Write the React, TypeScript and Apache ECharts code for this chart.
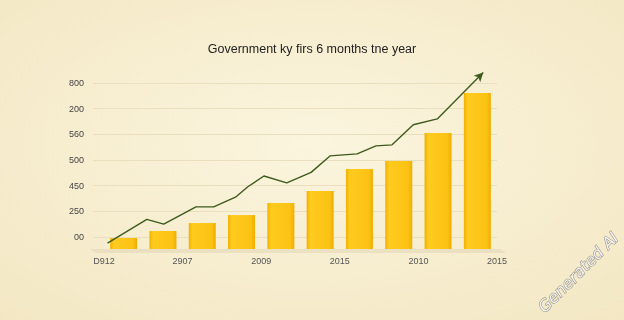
import React, { useEffect, useRef } from "react";
import * as echarts from "echarts";

const title = "Government ky firs 6 months tne year";
const categories = ["1", "2", "3", "4", "5", "6", "7", "8", "9", "10"];
const barValues = [43, 70, 101, 132, 179, 226, 311, 342, 451, 607];
const yTickLabels = ["00", "250", "450", "500", "560", "200", "800"];
const xTickLabels = ["D912", "2907", "2009", "2015", "2010", "2015"];
const lineX = [0.09, 1.09, 1.52, 2.34, 2.79, 3.36, 3.66, 4.07, 4.65, 5.27, 5.75, 6.44, 6.92, 7.33, 7.87, 8.48, 9.65];
const lineY = [23, 115, 97, 164, 164, 203, 242, 284, 257, 298, 362, 370, 401, 405, 483, 506, 686];

export default function App() {
  const ref = useRef<HTMLDivElement>(null);
  useEffect(() => {
    if (!ref.current) return;
    const chart = echarts.init(ref.current, undefined, { renderer: "svg" });
    const lineData: any[] = lineX.map((x, i) => {
      if (i === lineX.length - 1) {
        return { value: [x, lineY[i]], symbol: "arrow", symbolSize: [7, 9], symbolRotate: -45 };
      }
      return [x, lineY[i]];
    });
    chart.setOption({
      animation: false,
      backgroundColor: {
        type: "radial", x: 0.5, y: 0.45, r: 0.75,
        colorStops: [
          { offset: 0, color: "#FBF5DE" },
          { offset: 1, color: "#F3E7C3" },
        ],
      },
      title: {
        text: title, left: "center", top: 37,
        textStyle: { fontFamily: "Liberation Sans", fontSize: 12.5, fontWeight: "normal", color: "#222" },
      },
      grid: [
        { left: 93, right: 127, top: 83, bottom: 83 },
        { left: 104, right: 127, top: 69, bottom: 71 },
      ],
      xAxis: [
        { gridIndex: 0, type: "value", min: 0, max: 10, show: false, position: "bottom" },
        { gridIndex: 1, type: "category", data: categories, show: false, boundaryGap: true, position: "bottom" },
        {
          gridIndex: 1, type: "value", min: 0, max: 10, interval: 2, position: "bottom",
          axisLine: { show: false }, axisTick: { show: false }, splitLine: { show: false },
          axisLabel: {
            margin: 7, fontSize: 9, color: "#555", fontFamily: "Liberation Sans",
            formatter: (v: number) => xTickLabels[Math.round(v / 2)] ?? "",
          },
        },
      ],
      yAxis: [
        {
          gridIndex: 0, type: "value", min: 0, max: 600, interval: 100,
          axisLine: { show: false }, axisTick: { show: false },
          splitLine: { lineStyle: { color: "#E9DFBE", width: 1 } },
          axisLabel: {
            margin: 9, fontSize: 9, color: "#444", fontFamily: "Liberation Sans",
            formatter: (v: number) => yTickLabels[Math.round(v / 100)] ?? "",
          },
        },
        { gridIndex: 1, type: "value", min: 0, max: 700, show: false, splitLine: { show: false } },
      ],
      graphic: [
        {
          type: "polygon", silent: true, z: 0,
          shape: { points: [[90, 249], [500, 249], [506, 253], [96, 253]] },
          style: { fill: "rgba(200,185,150,0.25)" },
        },
        {
          type: "text", right: 2, bottom: 4, rotation: Math.PI / 4, silent: true,
          style: {
            text: "Generated AI", fontSize: 16, fontStyle: "italic", fontFamily: "DejaVu Sans",
            fill: "rgba(255,255,255,0.85)", stroke: "rgba(100,100,100,0.75)", lineWidth: 1,
          },
        },
      ],
      series: [
        {
          type: "bar", xAxisIndex: 1, yAxisIndex: 1, data: barValues, barWidth: 27, z: 2,
          itemStyle: {
            color: {
              type: "linear", x: 0, y: 0, x2: 1, y2: 0,
              colorStops: [
                { offset: 0, color: "#F2B000" },
                { offset: 0.14, color: "#FFCB1F" },
                { offset: 0.85, color: "#FBC213" },
                { offset: 1, color: "#EFAC00" },
              ],
            },
          },
        },
        {
          type: "line", xAxisIndex: 2, yAxisIndex: 1, data: lineData, symbol: "none",
          showSymbol: true, clip: false, z: 3,
          lineStyle: { color: "#3E5A1C", width: 1.4 },
          itemStyle: { color: "#3E5A1C" },
        },
      ],
    });
    return () => chart.dispose();
  }, []);
  return <div ref={ref} style={{ position: "fixed", left: 0, top: 0, width: 624, height: 320 }} />;
}
